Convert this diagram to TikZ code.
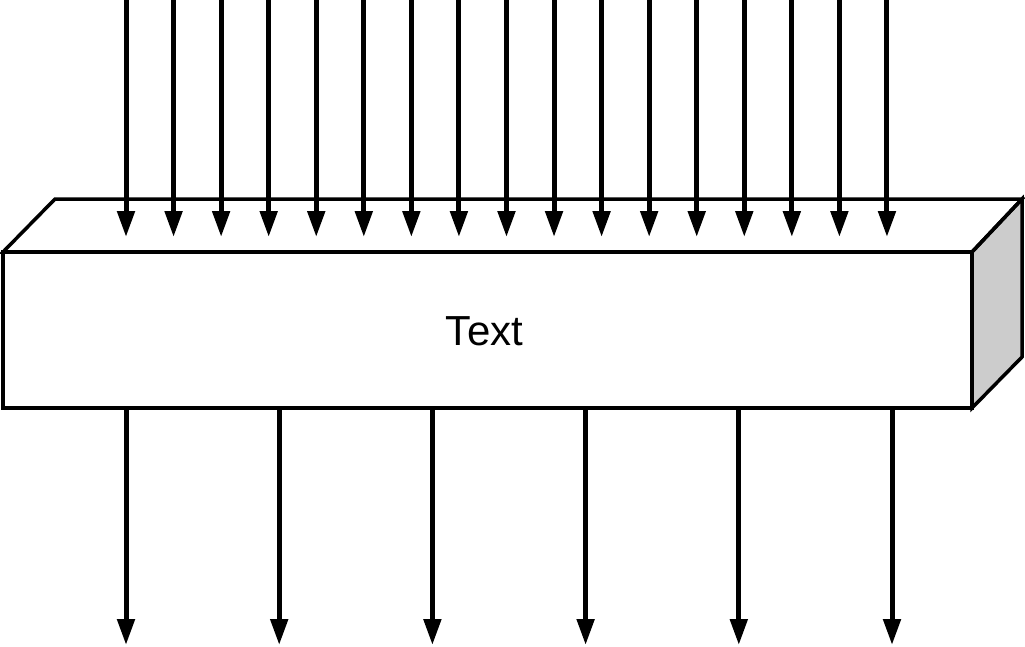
\documentclass[tikz,border=0pt]{standalone}
\usepackage{fontspec}
\setmainfont{Liberation Sans}
\usetikzlibrary{arrows.meta}
\tikzset{
  edgeline/.style={line width=3.5pt, line join=miter, draw=black},
  flowarrow/.style={line width=5pt, -{Triangle[length=26pt,width=17pt]}},
}
\begin{document}
\begin{tikzpicture}[x=1pt,y=-1pt]
\useasboundingbox (0,0) rectangle (1025,646);
% box corners
\coordinate (FTL) at (3,252);
\coordinate (FTR) at (972,252);
\coordinate (FBR) at (972,408);
\coordinate (FBL) at (3,408);
\coordinate (BTL) at (55,199);
\coordinate (BTR) at (1022,199);
\coordinate (BBR) at (1022,357);
% faces
\fill[white] (FTL) -- (BTL) -- (BTR) -- (FTR) -- cycle;
\fill[white] (FTL) rectangle (FBR);
\fill[gray!40] (FTR) -- (BTR) -- (BBR) -- (FBR) -- cycle;
\draw[edgeline] (FTL) -- (BTL) -- (BTR) -- (FTR) -- cycle;
\draw[edgeline] (FTL) rectangle (FBR);
\draw[edgeline] (FTR) -- (BTR) -- (BBR) -- (FBR) -- cycle;
\node[font=\fontsize{42}{50}\selectfont, anchor=base, inner sep=0pt] (label) at (484.5,345) {Text};
% top arrows
\foreach \i in {0,...,16} {
  \coordinate (ts\i) at ({126+\i*47.56},0);
  \coordinate (te\i) at ({126+\i*47.56},237);
  \draw[flowarrow] (ts\i) -- (te\i);
}
% bottom arrows
\foreach \i in {0,...,5} {
  \coordinate (bs\i) at ({126+\i*153.2},410);
  \coordinate (be\i) at ({126+\i*153.2},645);
  \draw[flowarrow] (bs\i) -- (be\i);
}
\end{tikzpicture}
\end{document}
